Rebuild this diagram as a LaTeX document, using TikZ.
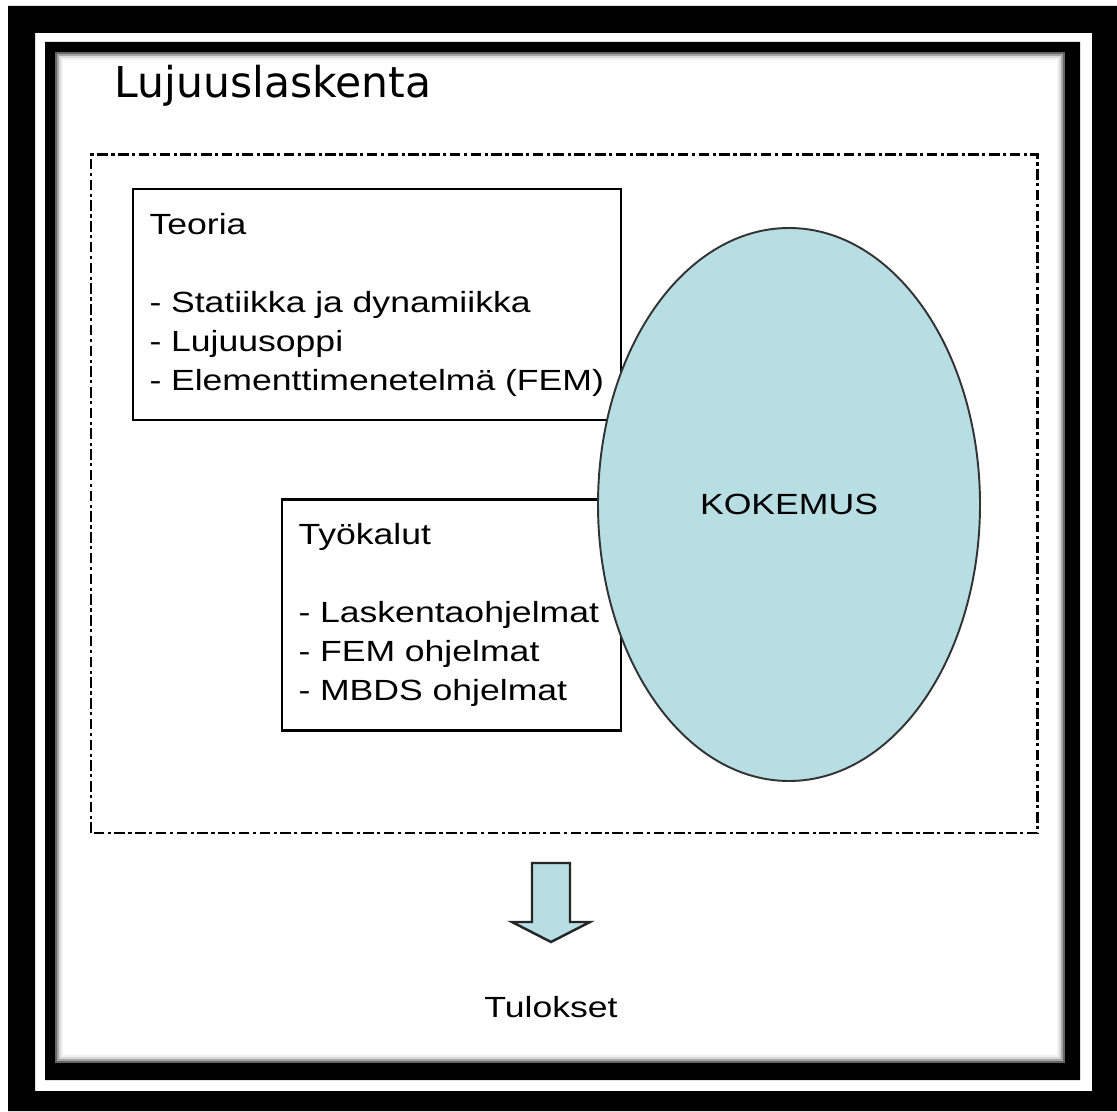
\documentclass[tikz,border=0pt]{standalone}
\usepackage{fontspec}
\setmainfont{Liberation Sans}[FakeStretch=1.22]
\newfontfamily\titlefont{DejaVu Sans}
\usepackage{tikz}
\usetikzlibrary{shapes.geometric}
\definecolor{kokblue}{RGB}{183,222,227}
\tikzset{l/.style={font=\fontsize{8.3}{11.1}\selectfont}}
\tikzset{t/.style={font=\titlefont\fontsize{12.1}{12.1}\selectfont}}
\tikzset{box/.style={draw,line width=0.7pt,fill=white,align=left,inner xsep=0.165cm,inner ysep=0pt,minimum height=2.31cm,l}}
\tikzset{dd/.style={line width=0.85pt,dash pattern=on 3pt off 1pt on 0.9pt off 1pt}}

\begin{document}
\begin{tikzpicture}
          \useasboundingbox (0,0) rectangle (11.17,11.11);
          \fill[white] (0,0) rectangle (11.17,11.11);
          % frame
          \fill[even odd rule] (0.08,0) rectangle (11.17,11.05) (0.35,0.20) rectangle (10.92,10.78);
          \fill[even odd rule] (0.45,0.31) rectangle (10.80,10.69) (0.55,0.48) rectangle (10.65,10.59);
          \foreach \i/\g in {1/60,2/35,3/15,4/5}
            \draw[black!\g,line width=0.021cm] ({0.54+0.02*\i},{0.47+0.02*\i}) rectangle ({10.66-0.02*\i},{10.60-0.02*\i});
          \node[t,anchor=base west,inner sep=0] (title) at (1.14,10.13) {Lujuuslaskenta};
          \draw[dd] (0.91,2.78) rectangle (10.37,9.56);
          \node[box,text width=4.55cm] (teoria) at (3.77,8.065)
            {Teoria\\[11.1pt]- Statiikka ja dynamiikka\\- Lujuusoppi\\- Elementtimenetelmä (FEM)};
          \node[box,text width=3.06cm] (tyokalut) at (4.515,4.96)
            {Työkalut\\[11.1pt]- Laskentaohjelmat\\- FEM ohjelmat\\- MBDS ohjelmat};
          \node[ellipse,draw=black!80,line width=0.55pt,fill=kokblue,minimum width=3.82cm,minimum height=5.53cm,inner sep=0,l] (kok) at (7.89,6.065) {KOKEMUS};
          % arrow to results
          \filldraw[fill=kokblue,draw=black!85,line width=0.7pt,line join=miter] (5.32,2.48) -- (5.70,2.48) -- (5.70,1.89) -- (5.90,1.89)
            -- (5.51,1.69) -- (5.12,1.89) -- (5.32,1.89) -- cycle;
          \node[l,anchor=base] (tulokset) at (5.51,0.94) {Tulokset};
        \end{tikzpicture}
\end{document}
